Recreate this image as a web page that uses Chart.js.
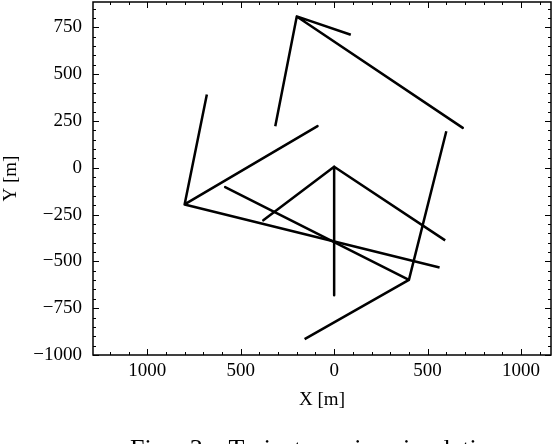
<!DOCTYPE html>
<html>
<head>
<meta charset="utf-8">
<script src="https://cdn.jsdelivr.net/npm/chart.js@4.4.0/dist/chart.umd.min.js"></script>
<style>
  html, body { margin: 0; padding: 0; background: #fff; }
  #wrap { position: relative; width: 556px; height: 444px; }
</style>
</head>
<body>
<div id="wrap"><canvas id="c" width="556" height="444"></canvas></div>
<script>
const FONT = "'Liberation Serif', 'DejaVu Serif', serif";

// each trajectory: arm end -> vertex -> arm end -> vertex -> arm end
const leftStar = [
  { x: -681, y: 391 }, { x: -800, y: -196 }, { x: -89, y: 222 },
  { x: -800, y: -196 }, { x: 564, y: -533 },
];
const topStar = [
  { x: 89, y: 710 }, { x: -200, y: 808 }, { x: 688, y: 213 },
  { x: -200, y: 808 }, { x: -315, y: 222 },
];
const centerStar = [
  { x: 594, y: -388 }, { x: 0, y: 5 }, { x: -379, y: -281 },
  { x: 0, y: 5 }, { x: 0, y: -681 },
];
const lowerStar = [
  { x: 600, y: 195 }, { x: 400, y: -599 }, { x: -583, y: -103 },
  { x: 400, y: -599 }, { x: -158, y: -915 },
];

const xTicks = [-1000, -500, 0, 500, 1000];
const yTicks = [-1000, -750, -500, -250, 0, 250, 500, 750];
const xMinorStep = 100;
const yMinorStep = 50;

const caption = 'Fig. 3: Trajectory in simulation';

function series(data) {
  return {
    data: data,
    showLine: true,
    borderColor: '#000',
    borderWidth: 2.5,
    borderJoinStyle: 'round',
    borderCapStyle: 'butt',
    pointRadius: 0,
    fill: false,
    tension: 0,
  };
}

// inward major/minor ticks on all four sides + caption
const frameTicks = {
  id: 'frameTicks',
  afterDraw(chart) {
    const { ctx, chartArea: a, scales: { x, y } } = chart;
    ctx.save();
    ctx.strokeStyle = '#000';
    ctx.lineWidth = 1;
    ctx.beginPath();
    for (let v = Math.ceil(x.min / xMinorStep) * xMinorStep; v <= x.max; v += xMinorStep) {
      const px = Math.round(x.getPixelForValue(v)) + 0.5;
      const len = v % 500 === 0 ? 6 : 3;
      ctx.moveTo(px, a.bottom); ctx.lineTo(px, a.bottom - len);
      ctx.moveTo(px, a.top); ctx.lineTo(px, a.top + len);
    }
    for (let v = Math.ceil(y.min / yMinorStep) * yMinorStep; v <= y.max; v += yMinorStep) {
      const py = Math.round(y.getPixelForValue(v)) + 0.5;
      const len = v % 250 === 0 ? 6 : 3;
      ctx.moveTo(a.left, py); ctx.lineTo(a.left + len, py);
      ctx.moveTo(a.right, py); ctx.lineTo(a.right - len, py);
    }
    ctx.stroke();
    ctx.lineWidth = 1.5;
    ctx.strokeRect(a.left, a.top, a.right - a.left, a.bottom - a.top);

    ctx.fillStyle = '#000';
    ctx.font = '26px ' + FONT;
    ctx.textAlign = 'left';
    ctx.textBaseline = 'alphabetic';
    ctx.wordSpacing = '12px';
    ctx.fillText(caption, 130, 457);
    ctx.restore();
  }
};

new Chart(document.getElementById('c'), {
  type: 'scatter',
  data: {
    datasets: [series(leftStar), series(topStar), series(centerStar), series(lowerStar)],
  },
  options: {
    responsive: false,
    animation: false,
    layout: { padding: { top: 2, right: 5, left: 0, bottom: 33 } },
    plugins: { legend: { display: false }, tooltip: { enabled: false } },
    scales: {
      x: {
        type: 'linear',
        min: -1290,
        max: 1160,
        afterBuildTicks: (s) => { s.ticks = xTicks.map(v => ({ value: v })); },
        afterFit: (s) => { s.height = 56; s.paddingLeft = 0; s.paddingRight = 0; },
        grid: { display: false, drawTicks: false },
        border: { display: false },
        ticks: {
          color: '#000',
          font: { family: FONT, size: 19 },
          padding: 5,
          maxRotation: 0,
          callback: (v) => Math.abs(v),
        },
        title: {
          display: true,
          text: 'X [m]',
          color: '#000',
          font: { family: FONT, size: 19 },
          padding: { top: 2, bottom: 0 },
        },
      },
      y: {
        type: 'linear',
        min: -1000,
        max: 885,
        afterBuildTicks: (s) => { s.ticks = yTicks.map(v => ({ value: v })); },
        afterFit: (s) => { s.width = 93; s.paddingTop = 0; s.paddingBottom = 0; },
        grid: { display: false, drawTicks: false },
        border: { display: false },
        ticks: {
          color: '#000',
          font: { family: FONT, size: 19 },
          padding: 11,
          callback: (v) => v < 0 ? '\u2212' + Math.abs(v) : String(v),
        },
        title: {
          display: true,
          text: 'Y [m]',
          color: '#000',
          font: { family: FONT, size: 19 },
          padding: { top: 0, bottom: 0 },
        },
      },
    },
  },
  plugins: [frameTicks],
});
</script>
</body>
</html>
